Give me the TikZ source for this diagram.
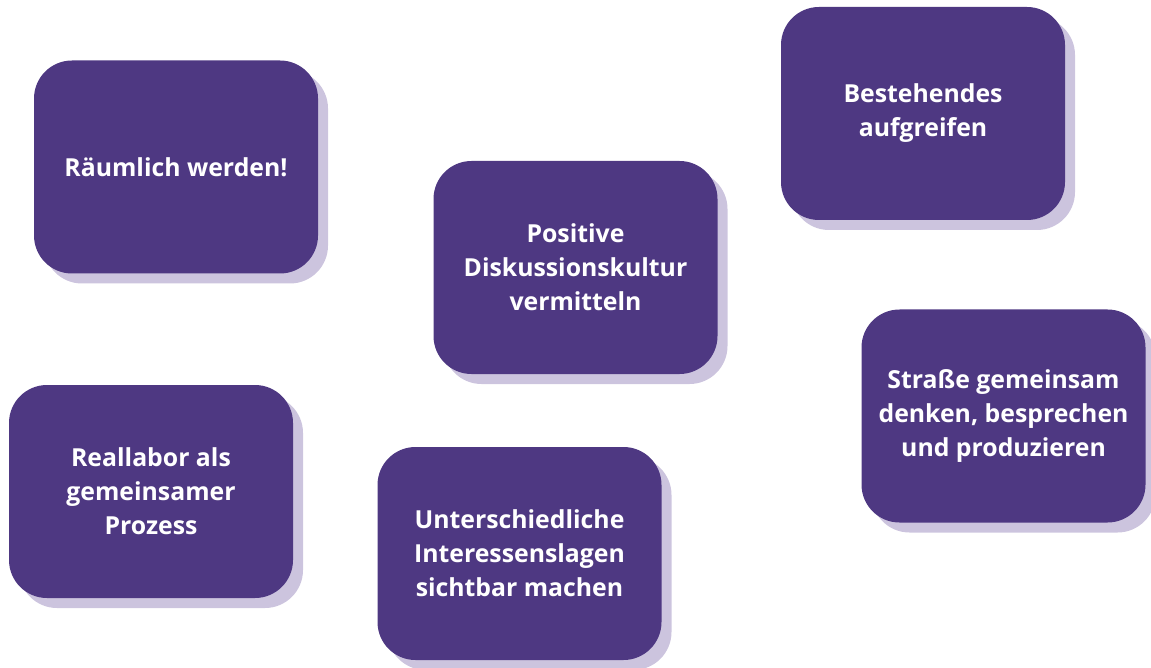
\documentclass[tikz,border=0pt]{standalone}
\usepackage{fontspec}
\usepackage{tikz}
\setmainfont{Open Sans}
\usetikzlibrary{shadows}
\definecolor{boxpurple}{RGB}{78,56,130}
\definecolor{shadowlilac}{RGB}{204,196,222}
\tikzset{
  goalbox/.style={fill=boxpurple, rounded corners=38pt, minimum width=284pt,
    minimum height=213pt, inner sep=0pt, text=white, align=center,
    font=\fontsize{24.8}{34}\selectfont\bfseries,
    drop shadow={shadow xshift=10pt, shadow yshift=-10pt, fill=shadowlilac, opacity=1}}
}
\begin{document}
\begin{tikzpicture}[x=1pt, y=-1pt]
  \useasboundingbox (0, 0) rectangle (1151, 668);
  \foreach \name/\x/\y/\txt in {
      raeumlich/176/167/{R\"aumlich werden!},
      bestehendes/923/113.5/{Bestehendes\\aufgreifen},
      diskussion/575.5/267.5/{Positive\\Diskussionskultur\\vermitteln},
      strasse/1003.5/416/{Stra\ss e gemeinsam\\denken, besprechen\\und produzieren},
      reallabor/151/491.5/{Reallabor als\\gemeinsamer\\Prozess},
      interessen/519.5/553.5/{Unterschiedliche\\Interessenslagen\\sichtbar machen}} {
    \node[goalbox] (\name) at (\x, \y) {\txt};
  }
\end{tikzpicture}
\end{document}
